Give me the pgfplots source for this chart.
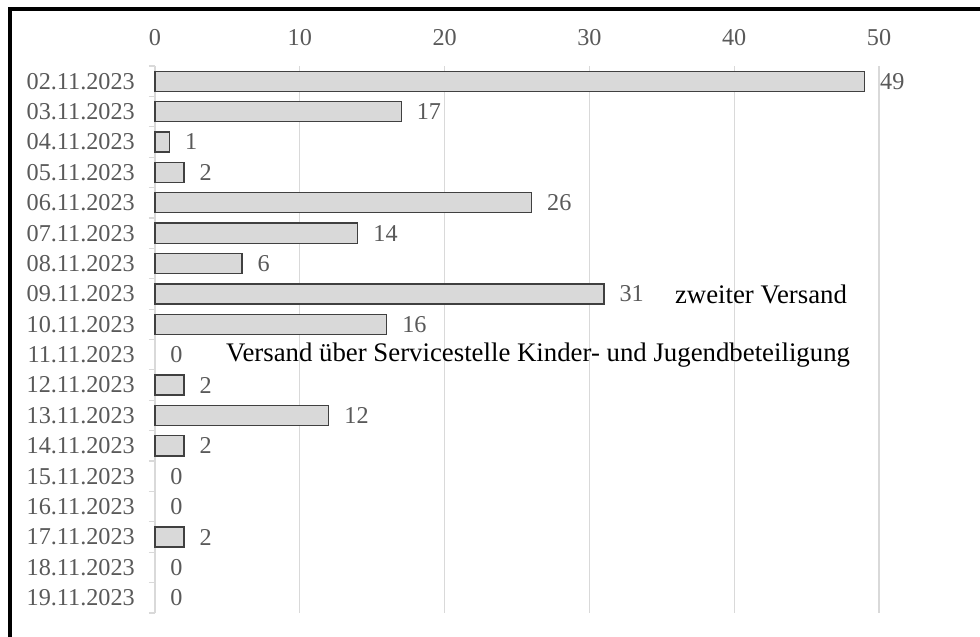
\documentclass[border=0pt]{standalone}
\usepackage{pgfplots}
\pgfplotsset{compat=1.18}
\usepackage{fontspec}
\setmainfont{Liberation Serif}
\definecolor{txtgray}{HTML}{595959}
\definecolor{gridgray}{HTML}{D9D9D9}
\definecolor{barfill}{HTML}{D9D9D9}
\definecolor{baredge}{HTML}{404040}
\begin{document}
\fontsize{24.2}{28}\selectfont
\begin{tikzpicture}[x=1pt,y=1pt]
\path[use as bounding box] (0,0) rectangle (980,637);
\draw[line width=4pt,black] (10,0) -- (10,628) -- (980,628);
\begin{axis}[
  at={(155pt,24pt)}, anchor=south west,
  scale only axis, width=724pt, height=547pt,
  xmin=0, xmax=50, ymin=-0.5, ymax=17.5,
  y dir=reverse,
  xbar, bar width=0.66, bar shift=0pt,
  axis x line*=top, axis y line*=left,
  x axis line style={draw=none},
  y axis line style={draw=gridgray, line width=1.2pt},
  xtick={0,10,...,50},
  xmajorgrids, grid style={draw=gridgray, line width=1.2pt},
  xtick style={draw=none},
  ytick={0,...,17},
  yticklabels={02.11.2023,03.11.2023,04.11.2023,05.11.2023,06.11.2023,07.11.2023,08.11.2023,09.11.2023,10.11.2023,11.11.2023,12.11.2023,13.11.2023,14.11.2023,15.11.2023,16.11.2023,17.11.2023,18.11.2023,19.11.2023},
  minor ytick={-0.5,0.5,...,17.5},
  major tick length=0pt, minor tick length=6pt, tick align=outside,
  minor y tick style={draw=gridgray, line width=1.2pt},
  ticklabel style={text=txtgray, font=\fontsize{24.2}{28}\selectfont},
  /pgf/number format/assume math mode=true,
  yticklabel style={xshift=-12pt},
  xticklabel style={yshift=12pt},
  nodes near coords,
  nodes near coords style={text=txtgray, font=\fontsize{24.2}{28}\selectfont, anchor=west, xshift=7pt},
  clip=false,
]
\addplot[fill=barfill, draw=baredge, line width=1.3pt] coordinates {
(49,0) (17,1) (1,2) (2,3) (26,4) (14,5) (6,6) (31,7) (16,8) (2,10) (12,11) (2,12) (2,15)
};
\addplot[draw=none, fill=none] coordinates {
(0,9) (0,13) (0,14) (0,16) (0,17)
};
\node[anchor=west, inner sep=0pt, font=\fontsize{26.8}{30}\selectfont] at (axis cs:35.9,7) {zweiter Versand};
\node[anchor=west, inner sep=0pt, font=\fontsize{26.8}{30}\selectfont] at (axis cs:4.9,9) {Versand über Servicestelle Kinder- und Jugendbeteiligung};
\end{axis}
\end{tikzpicture}
\end{document}
